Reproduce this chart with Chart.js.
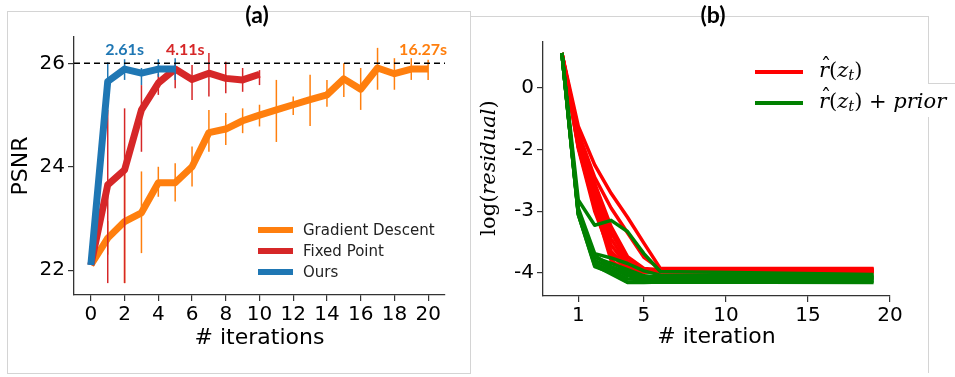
<!DOCTYPE html>
<html>
<head>
<meta charset="utf-8">
<script src="https://cdn.jsdelivr.net/npm/chart.js@4.4.0/dist/chart.umd.min.js"></script>
<style>
body { margin: 0; background: #fff; width: 955px; height: 377px; overflow: hidden; position: relative; }
.line { position: absolute; background: #d4d4d4; }
canvas { position: absolute; top: 0; }
.panel { position: absolute; top: 0px; width: 60px; text-align: center; font-family: Lato, sans-serif; font-weight: bold; font-size: 23px; color: #000; }
</style>
</head>
<body>
<!-- light frames around the two panels -->
<div class="line" style="left:7px;top:11px;width:463px;height:1px"></div>
<div class="line" style="left:7px;top:11px;width:1px;height:362px"></div>
<div class="line" style="left:7px;top:373px;width:463px;height:1px"></div>
<div class="line" style="left:470px;top:11px;width:1px;height:363px"></div>
<div class="line" style="left:470px;top:16px;width:458px;height:1px"></div>
<div class="line" style="left:928px;top:16px;width:1px;height:67px"></div>
<div class="line" style="left:928px;top:83px;width:27px;height:1px"></div>
<div class="line" style="left:928px;top:117px;width:1px;height:256px"></div>

<canvas id="psnr" width="470" height="377" style="left:0"></canvas>
<canvas id="resid" width="485" height="377" style="left:470px"></canvas>
<div class="panel" style="left:227px">(a)</div>
<div class="panel" style="left:683px">(b)</div>

<script>
// ---- panel (a): PSNR vs iterations ----
const iterA = [0, 1, 2, 3, 4, 5, 6, 7, 8, 9, 10, 11, 12, 13, 14, 15, 16, 17, 18, 19, 20];
const xTicksA = [0, 2, 4, 6, 8, 10, 12, 14, 16, 18, 20];
const yTicksA = [22, 24, 26];

const gdPsnr = [22.1, 22.62, 22.94, 23.11, 23.69, 23.69, 24.0, 24.66, 24.73, 24.89, 25.0,
                25.1, 25.2, 25.3, 25.39, 25.7, 25.5, 25.91, 25.8, 25.89, 25.89];
const gdLow  = [22.1, 22.3, 21.75, 22.33, 23.42, 23.33, 23.62, 24.29, 24.42, 24.65, 24.78,
                24.48, 25.0, 24.79, 25.16, 25.35, 25.1, 25.49, 25.49, 25.68, 25.68];
const gdHigh = [22.1, 22.95, 24.1, 23.91, 24.0, 24.07, 24.39, 25.1, 25.04, 25.13, 25.2,
                25.68, 25.36, 25.78, 25.68, 26.0, 25.91, 26.3, 26.1, 26.1, 26.07];

const fpPsnr = [22.1, 23.65, 23.94, 25.1, 25.62, 25.89, 25.69, 25.81, 25.71, 25.68, 25.79];
const fpLow  = [22.1, 21.75, 21.75, 24.29, 25.39, 25.52, 25.29, 25.36, 25.42, 25.45, 25.58];
const fpHigh = [22.1, 25.1, 25.13, 25.58, 25.8, 26.0, 25.97, 26.2, 26.03, 25.91, 25.87];

const oursPsnr = [22.1, 25.65, 25.89, 25.81, 25.89, 25.89];
const oursLow  = [22.1, 25.3, 25.68, 25.58, 25.74, 25.68];
const oursHigh = [22.1, 26.02, 26.08, 25.91, 26.08, 26.1];

const targetPsnr = 26;
const legendA = ['Gradient Descent', 'Fixed Point', 'Ours'];
const timeLabels = ['2.61s', '4.11s', '16.27s'];

const C_GD = '#ff7f0e', C_FP = '#d62728', C_OURS = '#1f77b4';

function pts(xs, ys) {
    return ys.map((y, i) => ({ x: xs[i], y: y }));
}

// vertical error bars, drawn with each dataset
const errorBars = {
    id: 'errorBars',
    afterDatasetDraw(chart, args) {
        const ds = chart.data.datasets[args.index];
        if (!ds.errLow) return;
        const { ctx, scales: { x, y } } = chart;
        ctx.save();
        ctx.strokeStyle = ds.borderColor;
        ctx.lineWidth = 1.5;
        ds.data.forEach((p, i) => {
            const px = x.getPixelForValue(p.x);
            ctx.beginPath();
            ctx.moveTo(px, y.getPixelForValue(ds.errLow[i]));
            ctx.lineTo(px, y.getPixelForValue(ds.errHigh[i]));
            ctx.stroke();
        });
        ctx.restore();
    }
};

// timing labels and legend of panel (a)
const panelAExtras = {
    id: 'panelAExtras',
    afterDraw(chart) {
        const { ctx, scales: { x, y } } = chart;
        ctx.save();
        ctx.font = 'bold 16px Lato';
        ctx.textAlign = 'center';
        ctx.textBaseline = 'middle';
        const where = [[2, C_OURS], [5.6, C_FP], [19.7, C_GD]];
        timeLabels.forEach((t, i) => {
            ctx.fillStyle = where[i][1];
            ctx.fillText(t, x.getPixelForValue(where[i][0]), y.getPixelForValue(26.27));
        });
        const cols = [C_GD, C_FP, C_OURS];
        ctx.font = '15px "DejaVu Sans"';
        ctx.textAlign = 'left';
        legendA.forEach((name, i) => {
            const ly = 230 + i * 21;
            ctx.strokeStyle = cols[i];
            ctx.lineWidth = 6;
            ctx.beginPath();
            ctx.moveTo(258, ly);
            ctx.lineTo(293, ly);
            ctx.stroke();
            ctx.fillStyle = '#222';
            ctx.fillText(name, 303, ly + 1);
        });
        ctx.restore();
    }
};

function line(label, data, color, width, extra) {
    return Object.assign({
        label: label, data: data, borderColor: color, backgroundColor: color,
        borderWidth: width, pointRadius: 0, fill: false, tension: 0,
        borderJoinStyle: 'round'
    }, extra || {});
}

const tickFont = { family: 'DejaVu Sans', size: 20 };
const titleFont = { family: 'DejaVu Sans', size: 22, lineHeight: 1.2 };
const axisGrid = { drawOnChartArea: false, drawTicks: true, tickLength: 6, color: '#333', lineWidth: 1.2 };
const axisBorder = { color: '#333', width: 1.3 };

new Chart(document.getElementById('psnr'), {
    type: 'line',
    data: {
        datasets: [
            line('target', [{ x: -1, y: targetPsnr }, { x: 21, y: targetPsnr }], '#000', 1.5, { borderDash: [6, 4] }),
            line('Ours', pts(iterA, oursPsnr), C_OURS, 7, { errLow: oursLow, errHigh: oursHigh }),
            line('Fixed Point', pts(iterA, fpPsnr), C_FP, 7, { errLow: fpLow, errHigh: fpHigh }),
            line('Gradient Descent', pts(iterA, gdPsnr), C_GD, 7, { errLow: gdLow, errHigh: gdHigh })
        ]
    },
    options: {
        responsive: false,
        animation: false,
        layout: { padding: { left: 0, right: 25, top: 37, bottom: 0 } },
        plugins: { legend: { display: false }, tooltip: { enabled: false } },
        scales: {
            x: {
                type: 'linear', min: -1, max: 21,
                afterBuildTicks: s => { s.ticks = xTicksA.map(v => ({ value: v })); },
                afterFit: s => { s.height = 82; },
                ticks: { font: tickFont, color: '#000', padding: 2, maxRotation: 0, autoSkip: false },
                grid: axisGrid, border: axisBorder,
                title: { display: true, text: '# iterations', font: titleFont, color: '#000', padding: { top: 0, bottom: 26 } }
            },
            y: {
                type: 'linear', min: 21.52, max: 26.51,
                afterBuildTicks: s => { s.ticks = yTicksA.map(v => ({ value: v })); },
                afterFit: s => { s.width = 74; },
                ticks: { font: tickFont, color: '#000', padding: 3 },
                grid: axisGrid, border: axisBorder,
                title: { display: true, text: 'PSNR', font: titleFont, color: '#000', padding: { top: 8, bottom: 0 } }
            }
        }
    },
    plugins: [errorBars, panelAExtras]
});

// ---- panel (b): residual curves ----
const iterB = [0, 1, 2, 3, 4, 5, 6, 19];
const xTicksB = [1, 5, 10, 15, 20];
// tick positions on the drawn axis and the labels printed there
const yTickPosB = [0, -1, -2, -3];
const yTickLabelsB = ['0', '-2', '-3', '-4'];

const redRuns = [
    [0.567, -0.62, -1.25, -1.71, -2.10, -2.52, -2.93, -2.93],
    [0.567, -0.72, -1.45, -1.95, -2.35, -2.75, -2.94, -2.94],
    [0.567, -0.75, -1.55, -2.25, -2.74, -2.93, -2.95, -2.95],
    [0.567, -0.80, -1.65, -2.35, -2.80, -2.95, -2.96, -2.96],
    [0.567, -0.85, -1.75, -2.45, -2.86, -2.96, -2.97, -2.97],
    [0.567, -0.90, -1.85, -2.55, -2.90, -2.97, -2.98, -2.98],
    [0.567, -0.95, -1.95, -2.65, -2.94, -2.98, -2.98, -2.98],
    [0.567, -0.98, -2.00, -2.70, -2.96, -2.99, -2.99, -2.99],
    [0.567, -0.96, -1.90, -2.80, -3.00, -2.99, -2.98, -2.98]
];
const greenRuns = [
    [0.567, -1.82, -2.23, -2.15, -2.33, -2.69, -2.98, -3.03],
    [0.567, -1.95, -2.69, -2.76, -2.85, -2.97, -3.04, -3.05],
    [0.567, -2.00, -2.75, -2.85, -2.95, -3.05, -3.07, -3.07],
    [0.567, -2.02, -2.80, -2.92, -3.05, -3.10, -3.10, -3.09],
    [0.567, -2.04, -2.85, -2.97, -3.10, -3.12, -3.12, -3.12],
    [0.567, -2.05, -2.90, -3.00, -3.15, -3.15, -3.14, -3.14],
    [0.567, -2.06, -2.88, -3.02, -3.16, -3.16, -3.15, -3.16],
    [0.567, -2.03, -2.72, -2.90, -3.00, -3.08, -3.08, -3.08]
];

const C_RED = '#ff0000', C_GREEN = '#008000';

// draw a run of mixed upright / italic serif text, returns end x
function mathText(ctx, parts, x, y, size) {
    parts.forEach(p => {
        const s = p.sub ? size * 0.7 : size;
        ctx.font = (p.it ? 'italic ' : '') + s + 'px "DejaVu Serif"';
        const yy = p.sub ? y + size * 0.22 : y;
        ctx.fillText(p.t, x, yy);
        const w = ctx.measureText(p.t).width;
        if (p.hat) {
            ctx.font = s + 'px "DejaVu Serif"';
            const hw = ctx.measureText('\u02C6').width;
            ctx.fillText('\u02C6', x + w / 2 - hw / 2 + 2, yy - size * 0.22);
        }
        x += w;
    });
    return x;
}

const panelBExtras = {
    id: 'panelBExtras',
    afterDraw(chart) {
        const { ctx } = chart;
        ctx.save();
        ctx.fillStyle = '#000';
        ctx.textBaseline = 'middle';
        ctx.textAlign = 'left';
        // rotated y title log(residual)
        const yParts = [{ t: 'log(' }, { t: 'residual', it: true }, { t: ')' }];
        ctx.save();
        ctx.translate(20, 168);
        ctx.rotate(-Math.PI / 2);
        let w = 0;
        yParts.forEach(p => {
            ctx.font = (p.it ? 'italic ' : '') + '21px "DejaVu Serif"';
            w += ctx.measureText(p.t).width;
        });
        mathText(ctx, yParts, -w / 2, 0, 21);
        ctx.restore();
        // legend
        const items = [
            [C_RED, [{ t: 'r', it: true, hat: true }, { t: '(' }, { t: 'z', it: true }, { t: 't', it: true, sub: true }, { t: ')' }]],
            [C_GREEN, [{ t: 'r', it: true, hat: true }, { t: '(' }, { t: 'z', it: true }, { t: 't', it: true, sub: true }, { t: ') + ' }, { t: 'prior', it: true }]]
        ];
        items.forEach((it, i) => {
            const ly = 72 + i * 31;
            ctx.strokeStyle = it[0];
            ctx.lineWidth = 4;
            ctx.beginPath();
            ctx.moveTo(285, ly);
            ctx.lineTo(333, ly);
            ctx.stroke();
            ctx.fillStyle = '#000';
            mathText(ctx, it[1], 349, ly, 21);
        });
        ctx.restore();
    }
};

const bSets = [];
greenRuns.forEach((r, i) => bSets.push(line('prior ' + i, pts(iterB, r), C_GREEN, 3.5)));
redRuns.forEach((r, i) => bSets.push(line('plain ' + i, pts(iterB, r), C_RED, 3.5)));

new Chart(document.getElementById('resid'), {
    type: 'line',
    data: { datasets: bSets },
    options: {
        responsive: false,
        animation: false,
        layout: { padding: { left: 0, right: 65, top: 42, bottom: 0 } },
        plugins: { legend: { display: false }, tooltip: { enabled: false } },
        scales: {
            x: {
                type: 'linear', min: -1.15, max: 20,
                afterBuildTicks: s => { s.ticks = xTicksB.map(v => ({ value: v })); },
                afterFit: s => { s.height = 81; },
                ticks: { font: tickFont, color: '#000', padding: 2, maxRotation: 0, autoSkip: false },
                grid: axisGrid, border: axisBorder,
                title: { display: true, text: '# iteration', font: titleFont, color: '#000', padding: { top: 0, bottom: 27 } }
            },
            y: {
                type: 'linear', min: -3.378, max: 0.746,
                afterBuildTicks: s => { s.ticks = yTickPosB.map(v => ({ value: v })); },
                afterFit: s => { s.width = 73; },
                ticks: {
                    font: tickFont, color: '#000', padding: 3,
                    callback: (v) => yTickLabelsB[yTickPosB.indexOf(v)]
                },
                grid: axisGrid, border: axisBorder
            }
        }
    },
    plugins: [panelBExtras]
});
</script>
</body>
</html>
